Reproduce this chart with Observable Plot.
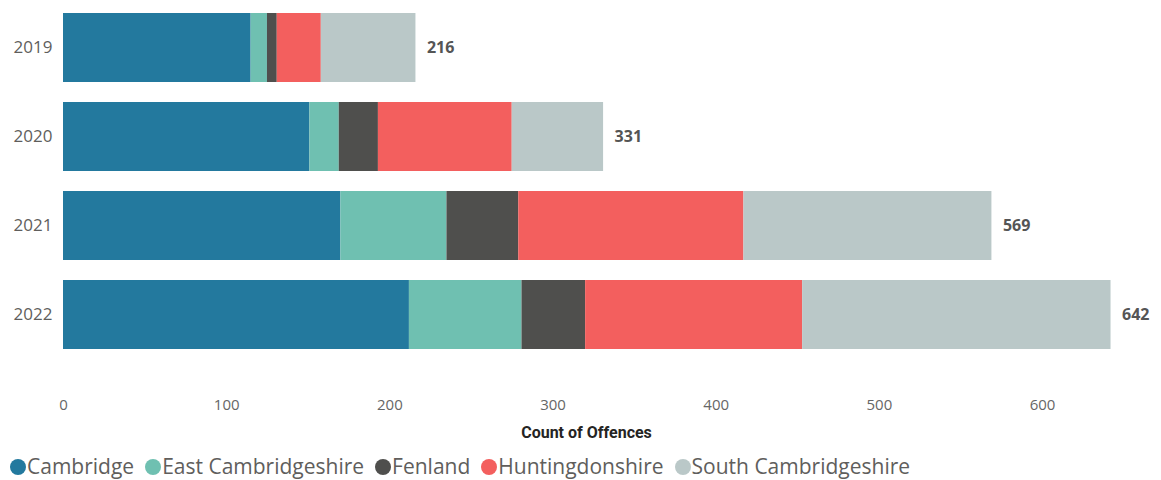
<!DOCTYPE html>
<html>
<head>
<meta charset="utf-8">
<script src="https://cdn.jsdelivr.net/npm/d3@7"></script>
<script src="https://cdn.jsdelivr.net/npm/@observablehq/plot@0.6"></script>
<style>
  html, body { margin: 0; padding: 0; background: #fff; }
  #chart { width: 1161px; }
  .legend { display: flex; align-items: center; font-family: "Open Sans", sans-serif; font-size: 21px; line-height: 29px; color: #605E5C; margin-left: 10px; margin-top: 7px; white-space: nowrap; }
  .legend .item { display: flex; align-items: center; margin-right: 11px; }
  .legend .dot { width: 16px; height: 16px; border-radius: 50%; margin-right: 1px; }
</style>
</head>
<body>
<div id="chart"></div>
<script>
const years = ["2019", "2020", "2021", "2022"];
const districts = ["Cambridge", "East Cambridgeshire", "Fenland", "Huntingdonshire", "South Cambridgeshire"];
const colors = ["#23799E", "#6FC0B1", "#4F4F4D", "#F35F5E", "#BAC8C8"];
const cambridge = [115, 151, 170, 212];
const eastCambs = [10, 18, 65, 69];
const fenland = [6, 24, 44, 39];
const hunts = [27, 82, 138, 133];
const southCambs = [58, 56, 152, 189];
const xTicks = [0, 100, 200, 300, 400, 500, 600];

const series = [cambridge, eastCambs, fenland, hunts, southCambs];
const data = [];
years.forEach((y, i) => {
  districts.forEach((d, j) => data.push({year: y, district: d, value: series[j][i]}));
});
const totals = years.map((y, i) => ({year: y, total: d3.sum(series, s => s[i])}));

const pxPerUnit = 979 / 600;
const plot = Plot.plot({
  width: 1161,
  height: 445,
  marginLeft: 63,
  marginRight: 20,
  marginTop: 0,
  marginBottom: 51,
  style: {fontFamily: "'Open Sans', sans-serif", background: "#fff"},
  x: {domain: [0, 660], range: [63, 63 + 660 * pxPerUnit], ticks: xTicks, label: null},
  y: {domain: years, range: [3, 359], paddingInner: 0.23, paddingOuter: 0.1, label: null},
  color: {domain: districts, range: colors},
  marks: [
    Plot.barX(data, {y: "year", x: "value", fill: "district"}),
    Plot.text(totals, {y: "year", x: "total", text: d => String(d.total), textAnchor: "start", dx: 11, fontWeight: "bold", fontSize: 16, fill: "#555"}),
    Plot.axisX({ticks: xTicks, tickSize: 0, tickPadding: 5, fontSize: 15, color: "#666", label: null}),
    Plot.axisY({tickSize: 0, tickPadding: 11, fontSize: 17, color: "#605E5C", label: null}),
    Plot.text(["Count of Offences"], {frameAnchor: "bottom", dy: 43, dx: -16, text: d => d, fontWeight: "bold", fontSize: 16, fill: "#252423", fontFamily: "Roboto, sans-serif"})
  ]
});
document.getElementById("chart").appendChild(plot);

const legend = document.createElement("div");
legend.className = "legend";
districts.forEach((d, i) => {
  const item = document.createElement("div");
  item.className = "item";
  const dot = document.createElement("span");
  dot.className = "dot";
  dot.style.background = colors[i];
  const label = document.createElement("span");
  label.textContent = d;
  item.appendChild(dot);
  item.appendChild(label);
  legend.appendChild(item);
});
document.getElementById("chart").appendChild(legend);
</script>
</body>
</html>
